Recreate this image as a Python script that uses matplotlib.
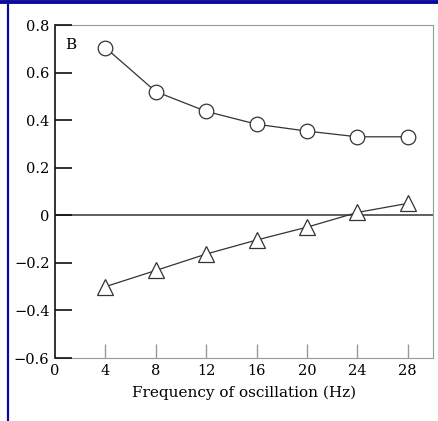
import matplotlib.pyplot as plt
from matplotlib.lines import Line2D

freq = [4, 8, 12, 16, 20, 24, 28]
circles = [0.705, 0.52, 0.437, 0.383, 0.354, 0.33, 0.33]
triangles = [-0.30, -0.232, -0.163, -0.104, -0.05, 0.012, 0.05]

xticks = [0, 4, 8, 12, 16, 20, 24, 28]
yticks = [-0.6, -0.4, -0.2, 0, 0.2, 0.4, 0.6, 0.8]
ylabels = ["\u22120.6", "\u22120.4", "\u22120.2", "0", "0.2", "0.4", "0.6", "0.8"]

plt.rcParams['font.family'] = 'DejaVu Serif'
plt.rcParams['font.size'] = 10.5

fig = plt.figure(figsize=(4.39, 4.21), dpi=100)
ax = fig.add_axes([0.1253, 0.1496, 0.986 - 0.1253, 0.9406 - 0.1496])

# blue page frame
fig.add_artist(Line2D([0, 1], [0.995, 0.995], color='#0a0a9c', lw=2.8))
fig.add_artist(Line2D([0.018, 0.018], [0, 1], color='#0a0a9c', lw=1.6))

ax.axhline(0, color='#444444', lw=1.2, zorder=1)
ax.plot(freq, circles, color='#333333', lw=0.9, marker='o', ms=10.5,
        mfc='white', mec='#333333', mew=0.9, zorder=3)
ax.plot(freq, triangles, color='#333333', lw=0.9, marker='^', ms=11,
        mfc='white', mec='#333333', mew=0.9, zorder=3)

ax.set_xlim(0, 30)
ax.set_ylim(-0.6, 0.8)
ax.set_xticks(xticks)
ax.set_yticks(yticks)
ax.set_yticklabels(ylabels)

ax.tick_params(axis='y', direction='in', length=12, width=1.2, color='#111111', pad=4)
ax.tick_params(axis='x', direction='in', length=10, width=1, color='#999999', pad=4)
ax.xaxis.get_major_ticks()[0].tick1line.set_visible(False)

ax.spines['left'].set_color('#111111')
ax.spines['left'].set_linewidth(1.2)
ax.spines['bottom'].set_color('#999999')
ax.spines['top'].set_color('#999999')
ax.spines['right'].set_color('#999999')
for sp in ax.spines.values():
    sp.set_zorder(0.5)

ax.text(0.028, 0.96, "B", transform=ax.transAxes, fontsize=11, va='top')
ax.set_xlabel("Frequency of oscillation (Hz)", fontsize=11, labelpad=6)

fig.savefig("out.png", dpi=100)
